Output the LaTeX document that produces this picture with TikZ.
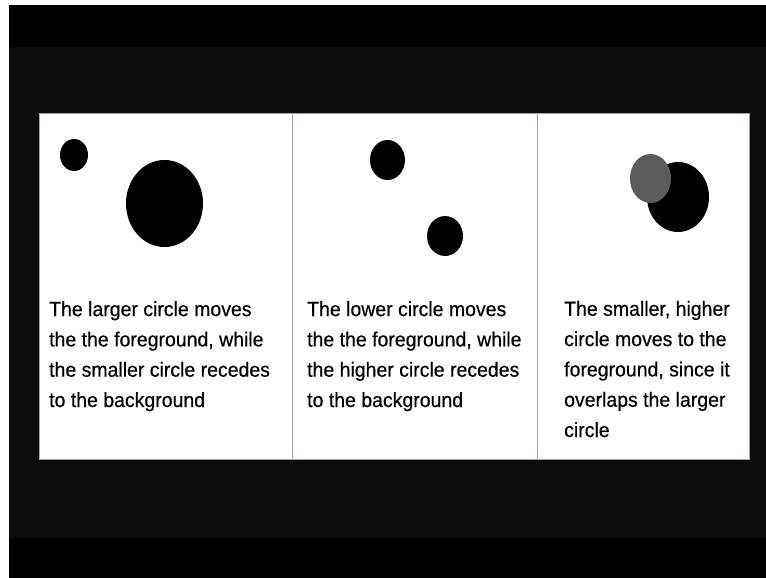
\documentclass[tikz,border=0pt]{standalone}
\usepackage{fontspec}
\setmainfont{Liberation Sans}[FakeStretch=0.95,FakeBold=0.4]
\definecolor{bgdark}{HTML}{0B0B0B}
\definecolor{divider}{RGB}{175,158,162}
\definecolor{graycirc}{HTML}{5C5C5C}
\tikzset{
  dot/.style={fill=black, draw=none},
  graydot/.style={fill=graycirc, draw=none},
  caption/.style={anchor=base west, inner sep=0pt, align=left,
    font=\fontsize{20.5}{30.3}\selectfont, text=black}
}
\begin{document}
\begin{tikzpicture}[x=1pt,y=-1pt]
\useasboundingbox (0,0) rectangle (766,578);
\fill[white] (0,0) rectangle (766,578);
\fill[bgdark] (9,5) rectangle (766,578);
\fill[black] (9,5) rectangle (766,47);
\fill[black] (9,538) rectangle (766,578);
% panel
\fill[white] (39,113) rectangle (749,459);
\draw[divider, line width=0.6pt] (39,113) rectangle (749,459);
\draw[divider, line width=1pt] (292,113) -- (292,459);
\draw[divider, line width=1pt] (537,113) -- (537,459);
% panel 1
\fill[dot] (74,155) ellipse [x radius=14, y radius=16];
\fill[dot] (164.5,203.5) ellipse [x radius=38.5, y radius=43.5];
% panel 2
\fill[dot] (387.5,160) ellipse [x radius=17.5, y radius=20];
\fill[dot] (445,236) ellipse [x radius=18, y radius=20];
% panel 3
\fill[dot] (678,197) ellipse [x radius=31, y radius=35];
\fill[graydot] (650.5,178.5) ellipse [x radius=20.5, y radius=24.5];
% captions
\node[caption] (t1) at (49,407) {The larger circle moves\\the the foreground, while\\the smaller circle recedes\\to the background};
\node[caption] (t2) at (307,407) {The lower circle moves\\the the foreground, while\\the higher circle recedes\\to the background};
\node[caption] (t3) at (564,437) {The smaller, higher\\circle moves to the\\foreground, since it\\overlaps the larger\\circle};
\end{tikzpicture}
\end{document}
